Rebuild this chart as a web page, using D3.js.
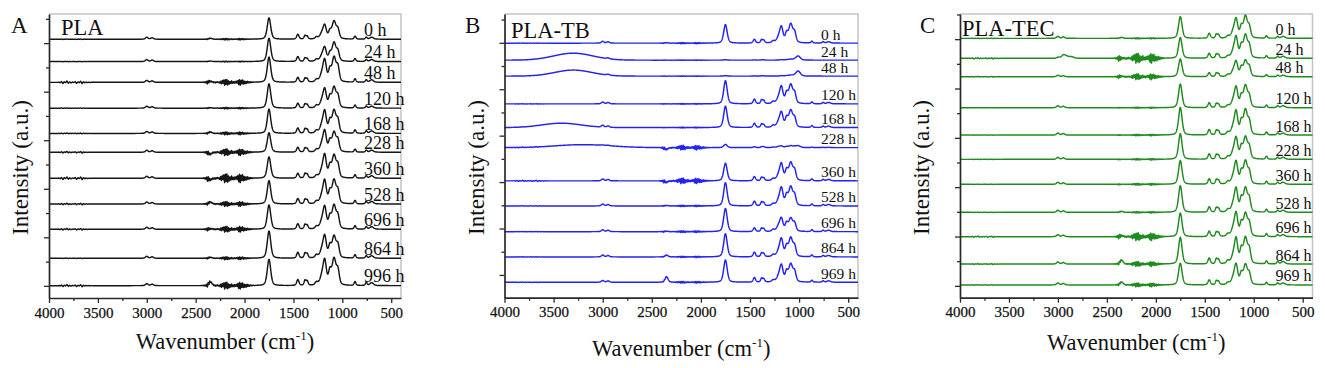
<!DOCTYPE html>
<html>
<head>
<meta charset="utf-8">
<title>FTIR spectra PLA / PLA-TB / PLA-TEC</title>
<script src="https://d3js.org/d3.v7.min.js"></script>
<style>
  body { margin: 0; background: #fff; }
  svg text { font-family: "Times New Roman", "Liberation Serif", serif; fill: #111; }
</style>
</head>
<body>
<div id="chart"></div>
<script>
// band centres (cm-1) and their full widths, shared by all spectra
var bands      = [3000, 2945, 2350, 1750, 1455, 1382, 1360, 1265, 1210, 1180, 1128, 1085, 1045, 870, 755, 700, 1010];
var bandWidths = [  32,   32,   36,   42,   28,   22,   24,   32,   48,   40,   32,   48,   34,  22,  22,  44,   52];

// panel A - PLA
var labelsA  = ["0 h", "24 h", "48 h", "120 h", "168 h", "228 h", "360 h", "528 h", "696 h", "864 h", "996 h"];
var offsetsA = [254, 231, 209.6, 183, 157, 137.6, 110.8, 84.3, 58.3, 28.4, 0.2];
var heightsA = [
  [2, 1.5,  1,   22, 5,   3.5, 3,   2,   5, 13, 7,  18, 9,  3,   2,   2,   0],
  [2, 1.5,  0.5, 24, 5,   3.5, 3,   2,   5, 13, 7,  19, 9,  3,   2,   2,   0],
  [2, 1.5,  1,   26, 5,   4,   3.5, 2.5, 7, 21, 11, 25, 14, 3.5, 2.5, 2.5, 0],
  [2, 1.5,  0.5, 25, 5,   4,   3.5, 2.5, 6, 18, 10, 21, 11, 3,   2,   2,   0],
  [2, 1.5,  1.5, 25, 5.5, 4.5, 4,   2.5, 7, 21, 11, 23, 12, 3.5, 2.5, 2.5, 0],
  [2, 1.5, -2,   20, 5,   4,   3.5, 2.5, 7, 20, 10, 20, 11, 3,   2,   2,   0],
  [2, 1.5, -1.5, 22, 5,   4.5, 4,   2.5, 7, 22, 11, 23, 12, 3.5, 2.5, 2.5, 0],
  [2, 1.5,  2,   24, 5.5, 4.5, 4,   2.5, 7, 22, 11, 24, 12, 3.5, 2.5, 2.5, 0],
  [2, 1.5,  0.5, 25, 5.5, 4.5, 4,   2.5, 7, 21, 11, 24, 12, 3.5, 2.5, 2.5, 0],
  [2, 1.5,  1,   28, 6,   5,   4.5, 3,   7, 21, 11, 22, 12, 3.5, 2.5, 2.5, 0],
  [2, 1.5,  4,   27, 6,   5,   4.5, 3,   8, 24, 13, 27, 14, 4,   3,   3,   0]
];
var noiseA   = [0.8, 0.4, 3, 0.8, 1.5, 3.5, 4.5, 2.5, 3, 1.5, 3.5];
var noiseHiA = [0.3, 0.2, 1.5, 0.3, 0.5, 1, 1.5, 1, 1, 0.3, 1.2];

// panel B - PLA-TB
var labelsB  = ["0 h", "24 h", "48 h", "120 h", "168 h", "228 h", "360 h", "528 h", "696 h", "864 h", "969 h"];
var offsetsB = [249.6, 231.3, 214.1, 184.2, 158.7, 137.1, 101.3, 74.3, 46.6, 19.4, -7.9];
var heightsB = [
  [2,   1.5,  0.5, 20,  4,   3.5, 3,   2,   5, 16,  9,  20, 10, 2,   1.5, 1.5, 0],
  [0,   1,    0,   0.5, 0.3, 0.3, 0.3, 0,   0, 0.5, 0.5, 1, 0.5, 0,  0,   0,   4.5],
  [0,   1,    0,   0.5, 0.3, 0.3, 0.3, 0,   0, 0.5, 0.5, 1, 0.5, 0,  0,   0,   5.5],
  [2,   1.5,  0,   25,  5,   4,   3.5, 2,   5, 17,  10, 20, 10, 2,   1.5, 1.5, 0],
  [2,   1.5,  0,   23,  4.5, 3.5, 3,   2,   5, 15,  9,  18, 9,  2,   1.5, 1.5, 0],
  [0.5, 0.5, -2,   3.5, 1,   1,   1,   0.5, 1, 1.5, 1,  2,  1,  0.5, 0.3, 0.3, 2],
  [2,   1.5, -1.5, 19,  4.5, 3.5, 3,   2,   5, 17,  10, 19, 10, 2,   1.5, 1.5, 0],
  [2,   1.5,  0.5, 25,  5,   4,   3.5, 2,   5, 18,  10, 20, 10, 2,   1.5, 1.5, 0],
  [2,   1.5,  0.5, 25,  4,   3.5, 3,   2,   5, 13,  8,  14, 8,  2,   1.5, 1.5, 0],
  [2,   1.5,  2,   25,  5,   4,   3.5, 2,   5, 18,  10, 20, 10, 2,   1.5, 1.5, 0],
  [2,   1.5,  6,   24,  5,   4,   3.5, 2,   5, 17,  10, 19, 10, 2,   1.5, 1.5, 0]
];
var noiseB   = [0.7, 0.3, 0.3, 0.5, 0.5, 2.5, 3, 0.8, 1, 0.7, 1];
var noiseHiB = [0.2, 0, 0, 0.2, 0.2, 0.6, 0.8, 0.3, 0.3, 0.3, 0.3];
// broad bands: [trace, centre, height, sigma]
var broadB = [[1, 3300, 7.5, 200], [2, 3300, 6.5, 190], [4, 3420, 4.7, 200], [5, 3200, 3.2, 280]];

// panel C - PLA-TEC
var labelsC  = ["0 h", "24 h", "48 h", "120 h", "168 h", "228 h", "360 h", "528 h", "696 h", "864 h", "969 h"];
var offsetsC = [250.8, 230.6, 211.9, 180.5, 152.8, 128.2, 102.9, 74.5, 49.8, 22.1, 0.9];
var heightsC = [
  [2,   1.5, 1,   22, 5,   4,   3.5, 2,   6,   18, 10, 22, 10, 2.5, 2,   2,   0],
  [1,   1,   0,   21, 5,   4,   3.5, 2,   6,   20, 11, 23, 11, 2.5, 2,   2,   0],
  [1.5, 1,   0.5, 18, 4,   3.5, 3,   2,   5,   14, 8,  16, 9,  2,   1.5, 1.5, 0],
  [2,   1.5, 0,   24, 5,   4,   3.5, 2,   6,   19, 10, 22, 10, 2.5, 2,   2,   0],
  [2,   1.5, 0,   28, 5.5, 4.5, 4,   2.5, 7,   22, 12, 25, 12, 3,   2,   2,   0],
  [2,   1.5, 0,   26, 5.5, 4.5, 4,   2.5, 6.5, 20, 11, 22, 11, 3,   2,   2,   0],
  [2,   1.5, 0,   24, 5.5, 4.5, 4,   2.5, 6.5, 21, 11, 23, 11, 3,   2,   2,   0],
  [2,   1.5, 1,   27, 5.5, 4.5, 4,   2.5, 7,   22, 12, 24, 12, 3,   2,   2,   0],
  [2,   1.5, 1,   24, 5.5, 4.5, 4,   2.5, 7,   22, 12, 23, 12, 3,   2,   2,   0],
  [2,   1.5, 4,   27, 6,   5,   4.5, 3,   7,   24, 13, 26, 13, 3,   2.5, 2.5, 0],
  [2,   1.5, 3,   22, 5,   4,   3.5, 2,   6,   19, 10, 20, 10, 2.5, 2,   2,   0]
];
var noiseC   = [0.6, 5, 3, 0.6, 0.8, 0.8, 1, 0.8, 4, 2.5, 2];
var noiseHiC = [0.2, 0.8, 0.5, 0.2, 0.2, 0.2, 0.3, 0.3, 0.8, 0.6, 0.4];
var broadC = [[1, 2930, 3, 30], [1, 2860, 1.5, 25]];

// jagged residue of the atmospheric correction, 2420 -> 1892 cm-1 every 8 cm-1
var noiseLo = [0.1, -0.1, 0.15, -0.2, 0.3,
  -0.6, 0.5, -0.4, 0.3, -0.2,
  0.15, -0.1, 0.2, -0.15, 0.1, -0.2, 0.15, -0.1, 0.2, -0.1, 0.1, -0.3,
  0.4, -0.5, 0.6, -0.3, 0.8, -1.0, 0.9, -0.7, 1.0, -0.9, 0.5, -0.6,
  0.3, -0.4, 0.5, -0.3, 0.2, -0.35, 0.3, -0.2, 0.4, -0.3,
  0.6, -0.8, 0.9, -1.0, 0.7, -0.5, 0.8, -0.6, 0.4, -0.5,
  0.3, -0.4, 0.35, -0.25, 0.2, -0.2, 0.15, -0.1, 0.1, -0.08, 0.05, 0];
// water vapour residue, 3900 -> 3550 cm-1 every 14 cm-1
var noiseHi = [0.2, -0.3, 0.6, -0.8, 0.4, -0.2, 0.9, -0.6, 0.3, -0.4, 0.2, -0.1, 0.5,
  -0.7, 0.3, -0.2, 0.8, -0.9, 0.4, -0.3, 0.2, -0.2, 0.1, -0.1, 0.05, 0];

var xTicks = [4000, 3500, 3000, 2500, 2000, 1500, 1000, 500];
var xMinor = [3750, 3250, 2750, 2250, 1750, 1250, 750];
var yTicks = [0, 50, 100, 150, 200, 250];
var yMinor = [25, 75, 125, 175, 225, 275];

var serif = "'Times New Roman', 'Liberation Serif', serif";

var panels = [
  {letter: "A", name: "PLA", color: "#151515", labels: labelsA, offsets: offsetsA, heights: heightsA,
   noise: noiseA, noiseHi: noiseHiA, broad: [],
   left: 49, right: 401, top: 14, bottom: 298, yDom: [-12.5, 280],
   labelSize: 18, nameX: 61, nameY: 35, letterX: 11, titleY: 349, yTitleX: 28},
  {letter: "B", name: "PLA-TB", color: "#2222f2", labels: labelsB, offsets: offsetsB, heights: heightsB,
   noise: noiseB, noiseHi: noiseHiB, broad: broadB,
   left: 504.5, right: 858, top: 14, bottom: 297.7, yDom: [-24.5, 281],
   labelSize: 15.5, nameX: 511, nameY: 38, letterX: 465, titleY: 356, yTitleX: 484},
  {letter: "C", name: "PLA-TEC", color: "#1f8a1f", labels: labelsC, offsets: offsetsC, heights: heightsC,
   noise: noiseC, noiseHi: noiseHiC, broad: broadC,
   left: 960, right: 1312.5, top: 14, bottom: 297.7, yDom: [-12, 275.5],
   labelSize: 16, nameX: 962, nameY: 36, letterX: 920, titleY: 350, yTitleX: 929}
];

function pv(wn, c, fwhm) {
  var t = (wn - c) / (fwhm / 2);
  return 0.4 / (1 + t * t) + 0.6 * Math.exp(-Math.LN2 * t * t);
}

function pattern(wn, arr, start, step) {
  var p = (start - wn) / step;
  if (p < 0 || p > arr.length - 1) return 0;
  var i = Math.floor(p), f = p - i;
  return i + 1 < arr.length ? arr[i] * (1 - f) + arr[i + 1] * f : arr[i];
}

function spectrum(p, j) {
  var row = p.heights[j], pts = [];
  var extra = p.broad.filter(function(b) { return b[0] === j; });
  for (var wn = 4000; wn >= 400; wn -= 2) {
    var v = p.offsets[j];
    bands.forEach(function(c, k) {
      if (row[k]) v += row[k] * pv(wn, c, bandWidths[k]);
    });
    extra.forEach(function(b) {
      var t = (wn - b[1]) / b[3];
      v += b[2] * Math.exp(-0.5 * t * t);
    });
    v += p.noise[j] * pattern(wn, noiseLo, 2420, 8);
    v += p.noiseHi[j] * pattern(wn, noiseHi, 3900, 14);
    pts.push([wn, v]);
  }
  return pts;
}

var svg = d3.select("#chart").append("svg")
  .attr("width", 1325)
  .attr("height", 368);

panels.forEach(function(p) {
  var x = d3.scaleLinear().domain([4000, 400]).range([p.left, p.right]);
  var y = d3.scaleLinear().domain(p.yDom).range([p.bottom, p.top]);
  var g = svg.append("g");

  // light frame on top and right
  g.append("path")
    .attr("d", "M" + p.left + "," + p.top + "H" + p.right + "V" + p.bottom)
    .attr("fill", "none")
    .attr("stroke", "#c4c4c4")
    .attr("stroke-width", 1.5);

  var line = d3.line()
    .x(function(d) { return x(d[0]); })
    .y(function(d) { return y(d[1]); });

  p.labels.forEach(function(lab, j) {
    g.append("path")
      .datum(spectrum(p, j))
      .attr("d", line)
      .attr("fill", "none")
      .attr("stroke", p.color)
      .attr("stroke-width", 1.45)
      .attr("stroke-linejoin", "round");
  });

  p.labels.forEach(function(lab, j) {
    g.append("text")
      .attr("x", p.right - 37)
      .attr("y", y(p.offsets[j]) - 3.5)
      .style("font-size", p.labelSize + "px")
      .text(lab);
  });

  // axes
  var gx = g.append("g").attr("transform", "translate(0," + p.bottom + ")");
  gx.call(d3.axisBottom(x).tickValues(xTicks).tickSize(5).tickSizeOuter(0).tickPadding(4)
    .tickFormat(d3.format("d")));
  gx.append("g").call(d3.axisBottom(x).tickValues(xMinor).tickSize(3).tickFormat(""))
    .select(".domain").remove();

  var gy = g.append("g").attr("transform", "translate(" + p.left + ",0)");
  gy.call(d3.axisLeft(y).tickValues(yTicks).tickSize(5).tickSizeOuter(0).tickFormat(""));
  gy.append("g").call(d3.axisLeft(y).tickValues(yMinor).tickSize(3).tickFormat(""))
    .select(".domain").remove();

  g.selectAll(".domain").attr("stroke", "#2a2a2a").attr("stroke-width", 1.7);
  g.selectAll(".tick line").attr("stroke", "#2a2a2a").attr("stroke-width", 1.3);
  gx.selectAll(".tick text")
    .style("font-family", serif)
    .style("font-size", "15px")
    .style("fill", "#111")
    .style("stroke", "#111")
    .style("stroke-width", "0.25px");

  // titles
  var xt = g.append("text")
    .attr("x", (p.left + p.right) / 2)
    .attr("y", p.titleY)
    .attr("text-anchor", "middle")
    .style("font-size", "22.5px");
  xt.append("tspan").text("Wavenumber (cm");
  xt.append("tspan").style("font-size", "13px").attr("dy", -9).text("-1");
  xt.append("tspan").attr("dy", 9).text(")");

  g.append("text")
    .attr("transform", "translate(" + p.yTitleX + ",167.5) rotate(-90)")
    .attr("text-anchor", "middle")
    .style("font-size", "23px")
    .text("Intensity (a.u.)");

  g.append("text")
    .attr("x", p.letterX)
    .attr("y", 32.7)
    .style("font-size", "23px")
    .text(p.letter);

  g.append("text")
    .attr("x", p.nameX)
    .attr("y", p.nameY)
    .style("font-size", "22.5px")
    .text(p.name);
});
</script>
</body>
</html>
